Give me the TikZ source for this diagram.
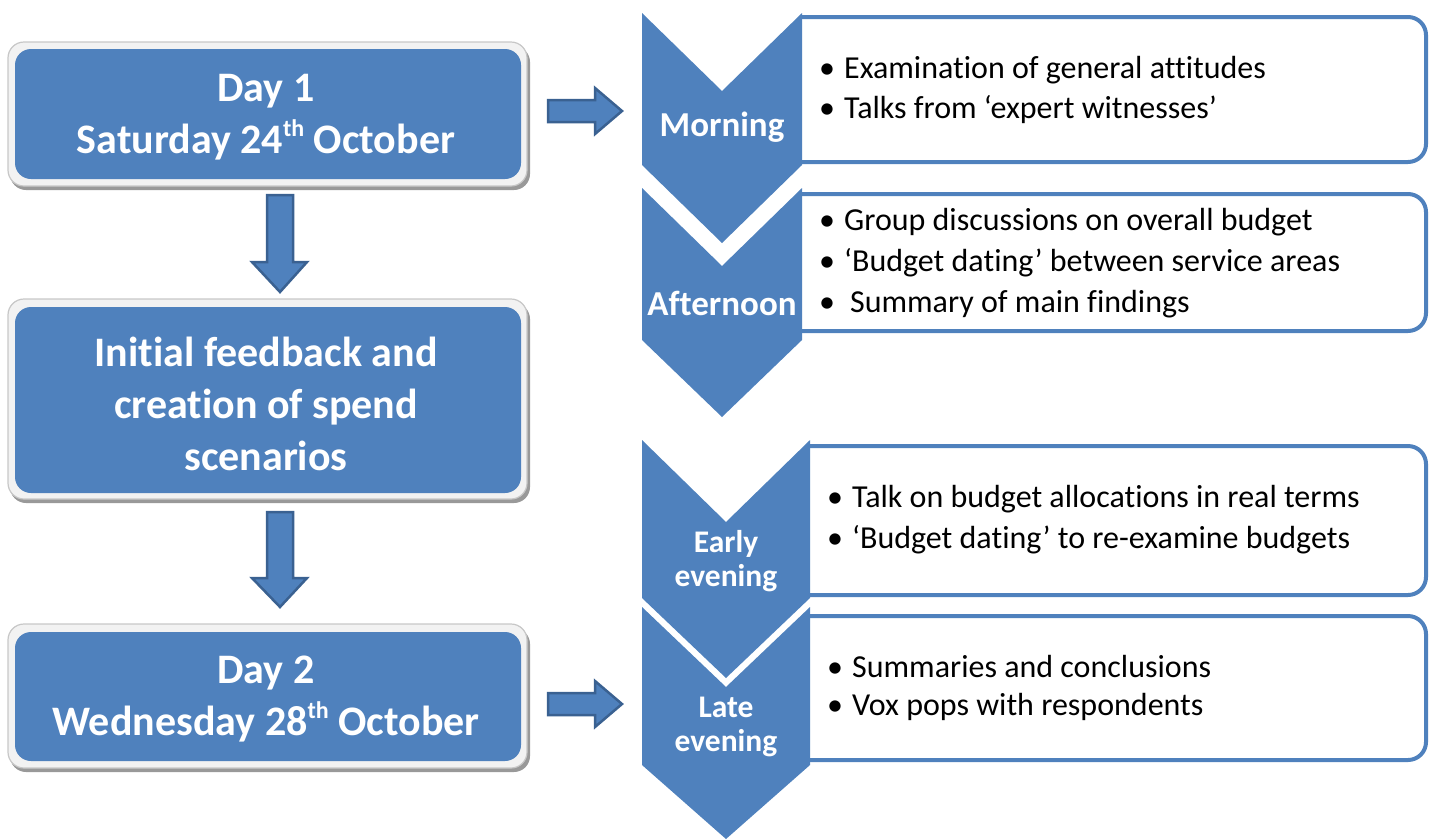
\documentclass[tikz,border=0pt]{standalone}
\usepackage{fontspec}
\setmainfont{Carlito}[Ligatures=CommonOff]
\definecolor{ofblue}{HTML}{4F81BD}
\definecolor{ofdark}{HTML}{3A6191}
\definecolor{frame}{HTML}{F2F2F2}
\newcommand{\supth}[1]{{\fontsize{24}{24}\selectfont\raisebox{17pt}{#1}}}
\begin{document}
\begin{tikzpicture}[x=1pt,y=-1pt,
  obox/.style={fill=frame, draw=black!22, line width=1.2pt, rounded corners=16pt},
  bbox/.style={fill=ofblue, rounded corners=16pt},
  ttl/.style={text=white, font=\fontsize{42}{52}\selectfont\bfseries, align=center, inner sep=0},
  chev/.style={fill=ofblue},
  clab/.style={text=white, font=\fontsize{35}{34}\selectfont\bfseries, align=center, inner sep=0},
  clab2/.style={text=white, font=\fontsize{31.5}{33.5}\selectfont\bfseries, align=center, inner sep=0},
  rbox/.style={draw=ofblue, line width=4pt, fill=white, rounded corners=18pt},
  item/.style={anchor=west, font=\fontsize{32}{36}\selectfont, inner sep=0},
  barrow/.style={fill=ofblue, draw=ofdark, line width=2.5pt, line join=miter}]
\useasboundingbox (0,0) rectangle (1429,839);

% ---------- left boxes ----------
\foreach \t/\b in {42/188, 299/501, 624/770}{
  \fill[black!40, rounded corners=16pt] (10,\t+4) rectangle (530,\b+2);
  \draw[obox] (8,\t) rectangle (527,\b-2);
}
\fill[bbox] (15,49) rectangle (521,179);
\fill[bbox] (15,307) rectangle (521,493);
\fill[bbox] (15,632) rectangle (521,761);

\node[ttl] (d1) at (266,117) {Day 1\\Saturday 24\supth{th} October};
\node[ttl] (ini) at (266,404) {Initial feedback and\\creation of spend\\scenarios};
\node[ttl] (d2) at (266,699) {Day 2\\Wednesday 28\supth{th} October};

% ---------- block arrows ----------
\draw[barrow] (267,195) -- (293,195) -- (293,262) -- (307,262) -- (280,292) -- (252,262) -- (267,262) -- cycle;
\draw[barrow] (267,512) -- (293,512) -- (293,578) -- (307,578) -- (280,607) -- (252,578) -- (267,578) -- cycle;
\draw[barrow] (548,100) -- (595,100) -- (595,88) -- (622,111) -- (595,134) -- (595,122) -- (548,122) -- cycle;
\draw[barrow] (548,693) -- (595,693) -- (595,681) -- (622,704) -- (595,727) -- (595,715) -- (548,715) -- cycle;

% ---------- right boxes (left side hidden behind the chevrons) ----------
\draw[rbox] (800,17) -- (1426,17) -- (1426,162) -- (800,162);
\draw[rbox] (800,194) -- (1426,194) -- (1426,331) -- (800,331);
\draw[rbox] (808,446) -- (1426,446) -- (1426,595) -- (808,595);
\draw[rbox] (808,616) -- (1426,616) -- (1426,760) -- (808,760);

% ---------- chevrons ----------
\fill[chev] (642,13) -- (722,91) -- (802,13) -- (802,165) -- (722,243) -- (642,165) -- cycle;
\fill[chev] (642,188) -- (722,266) -- (802,188) -- (802,340) -- (722,417) -- (642,340) -- cycle;
\fill[chev] (642,440) -- (726,522) -- (810,440) -- (810,598) -- (726,678) -- (642,598) -- cycle;
\fill[chev] (642,607) -- (726,687) -- (810,607) -- (810,765) -- (726,839) -- (642,765) -- cycle;

\node[clab] (mo) at (722,127) {Morning};
\node[clab] (af) at (722,303) {Afternoon};
\node[clab2] (ee) at (726,561) {Early\\evening};
\node[clab2] (le) at (726,727) {Late\\evening};

% ---------- bullet items ----------
\node[item] (m1) at (819,70) {\textbullet\hspace{9pt}Examination of general attitudes};
\node[item] (m2) at (819,110) {\textbullet\hspace{9pt}Talks from ‘expert witnesses’};
\node[item] (a1) at (819,222) {\textbullet\hspace{9pt}Group discussions on overall budget};
\node[item] (a2) at (819,263) {\textbullet\hspace{9pt}‘Budget dating’ between service areas};
\node[item] (a3) at (819,304) {\textbullet\hspace{15pt}Summary of main findings};
\node[item] (e1) at (827,499) {\textbullet\hspace{9pt}Talk on budget allocations in real terms};
\node[item] (e2) at (827,540) {\textbullet\hspace{9pt}‘Budget dating’ to re-examine budgets};
\node[item] (l1) at (827,666) {\textbullet\hspace{9pt}Summaries and conclusions};
\node[item] (l2) at (827,707) {\textbullet\hspace{9pt}Vox pops with respondents};
\end{tikzpicture}
\end{document}
